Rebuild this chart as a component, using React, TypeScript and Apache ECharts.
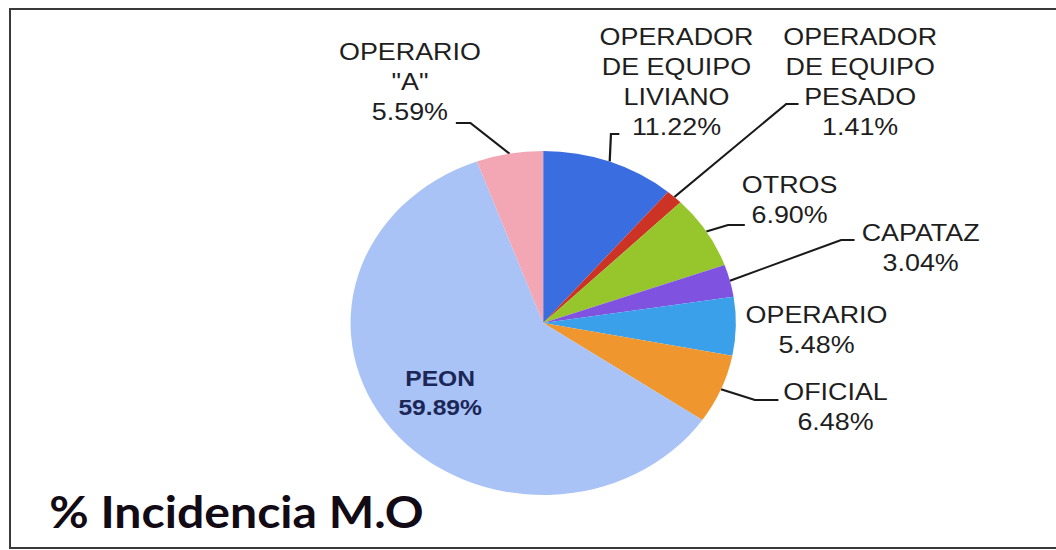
import React, { useEffect, useRef } from "react";
import * as echarts from "echarts";

// ---- data ----
const categories = [
  "OPERADOR\nDE EQUIPO\nLIVIANO",
  "OPERADOR\nDE EQUIPO\nPESADO",
  "OTROS",
  "CAPATAZ",
  "OPERARIO",
  "OFICIAL",
  "PEON",
  "OPERARIO\n\"A\"",
];
const values = [11.22, 1.41, 6.9, 3.04, 5.48, 6.48, 59.89, 5.59];
const colors = ["#3a6ee0", "#cc3324", "#97c62c", "#7f52e0", "#3aa0ea", "#f0962e", "#a9c3f6", "#f3a6b3"];

// ---- layout (chart space, before horizontal stretch) ----
const SX = 1.12;
const W = 1056 / SX;
const H = 550;
const labelPos: [number, number][] = [
  [604, 82],
  [768, 82],
  [705, 200],
  [822, 248],
  [729, 330],
  [746, 407],
  [393, 393],
  [366, 82],
];
const labelKnees: ([number, number][] | null)[] = [
  [[545.5, 134], [553, 134]],
  [[702, 104], [713, 104]],
  [[650, 225], [665, 225]],
  [[751, 240], [763, 240]],
  null,
  [[674, 400], [695, 400]],
  null,
  [[420, 123], [407, 123]],
];

export default function App() {
  const ref = useRef<HTMLDivElement>(null);
  useEffect(() => {
    if (!ref.current) return;
    const chart = echarts.init(ref.current, null, { renderer: "svg" });
    const data = categories.map((name, i) => {
      const isPeon = name === "PEON";
      return {
        name,
        value: values[i],
        itemStyle: { color: colors[i] },
        label: isPeon
          ? {
              position: "inside",
              fontWeight: "bold",
              fontSize: 22,
              lineHeight: 29,
              color: "#1b2757",
            }
          : undefined,
        labelLine: { show: labelKnees[i] != null },
      };
    });
    chart.setOption({
      animation: false,
      graphic: [
        {
          type: "text",
          x: 44,
          y: 512,
          style: {
            text: "% Incidencia M.O",
            fontSize: 43,
            fontWeight: "bold",
            fontFamily: "Lato",
            fill: "#120a14",
            align: "left",
            verticalAlign: "middle",
          },
        },
      ],
      series: [
        {
          type: "pie",
          center: [485, 323],
          radius: [0, 172],
          startAngle: 90,
          clockwise: true,
          avoidLabelOverlap: false,
          label: {
            show: true,
            position: "outside",
            formatter: (p: any) => `${p.name}\n${Number(p.value).toFixed(2)}%`,
            fontFamily: "Liberation Sans, Arial, sans-serif",
            fontSize: 24,
            lineHeight: 30,
            color: "#1e1e1e",
            align: "center",
          },
          labelLine: {
            show: true,
            length: 15,
            length2: 10,
            lineStyle: { color: "#1a1a1a", width: 2 },
          },
          labelLayout: (params: any) => {
            const i = params.dataIndex;
            const pos = labelPos[i];
            const knees = labelKnees[i];
            const res: any = {
              x: pos[0],
              y: pos[1],
              align: "center",
              verticalAlign: "middle",
            };
            if (knees && params.labelLinePoints) {
              res.labelLinePoints = [params.labelLinePoints[0], knees[0], knees[1]];
            }
            return res;
          },
          itemStyle: { borderWidth: 0 },
          emphasis: { disabled: true },
          data,
        },
      ],
    });
    return () => chart.dispose();
  }, []);
  return (
    <div
      style={{
        position: "fixed",
        left: 0,
        top: 0,
        width: 1056,
        height: 550,
        overflow: "hidden",
        background: "#fff",
      }}
    >
      <div
        style={{
          position: "absolute",
          left: 9,
          top: 8,
          width: 1100,
          height: 537,
          borderTop: "2px solid #3a3a3a",
          borderLeft: "2px solid #3a3a3a",
          borderBottom: "2px solid #3a3a3a",
        }}
      />
      <div
        ref={ref}
        style={{
          position: "absolute",
          left: 0,
          top: 0,
          width: W,
          height: H,
          transform: `scaleX(${SX})`,
          transformOrigin: "0 0",
        }}
      />
    </div>
  );
}
